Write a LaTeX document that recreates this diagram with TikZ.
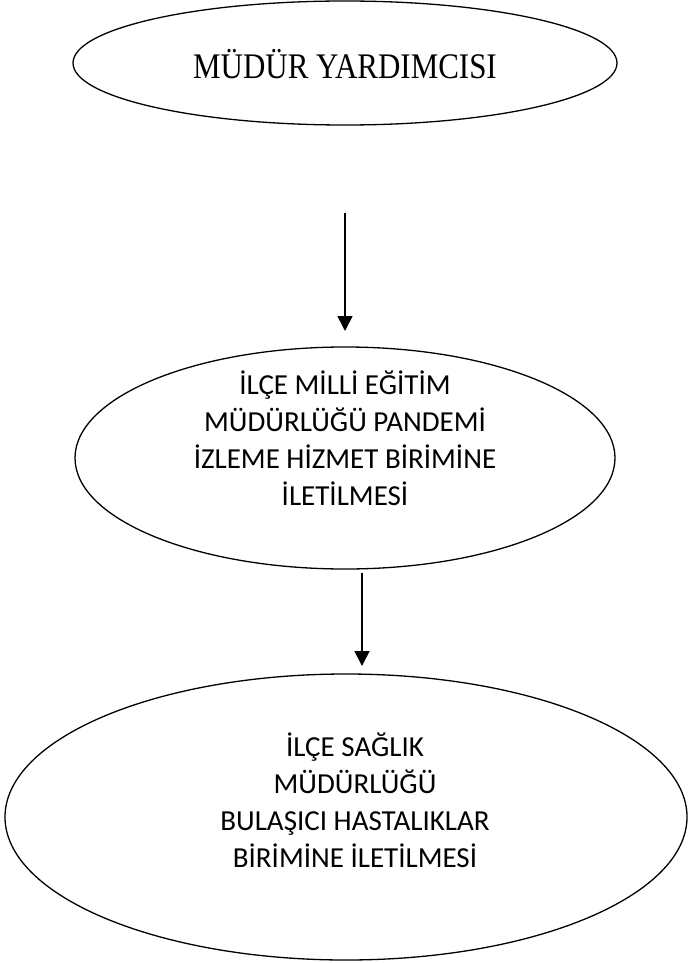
\documentclass[tikz,border=0pt]{standalone}
\usepackage{fontspec}
\setmainfont{Carlito}
\newfontfamily\timesfont{Liberation Serif}
\usetikzlibrary{positioning,arrows.meta,shapes.geometric}

\begin{document}
\begin{tikzpicture}[
    x=1pt, y=-1pt,
    oval/.style={draw, ellipse, line width=1.3pt, inner sep=0pt},
    label/.style={align=center, font=\fontsize{29}{37}\selectfont},
    flow/.style={line width=1.6pt, -{Triangle[width=15pt,length=15pt]}},
]
\useasboundingbox (0,0) rectangle (690,963);

% Ovals
\node[oval, minimum width=544pt, minimum height=124pt] (yardimci) at (345,63) {};
\node[oval, minimum width=540pt, minimum height=222pt] (ilcemem) at (345,458) {};
\node[oval, minimum width=682pt, minimum height=286pt] (saglik) at (346,817) {};

% Texts
\node[font=\timesfont\fontsize{36}{40}\selectfont] (yardimcitxt) at (345,64) {\scalebox{0.86}[1]{MÜDÜR YARDIMCISI}};
\node[label] (ilcememtxt) at (345,438) {İLÇE MİLLİ EĞİTİM\\MÜDÜRLÜĞÜ PANDEMİ\\İZLEME HİZMET BİRİMİNE\\İLETİLMESİ};
\node[label] (sagliktxt) at (355,800) {İLÇE SAĞLIK\\MÜDÜRLÜĞÜ\\BULAŞICI HASTALIKLAR\\BİRİMİNE İLETİLMESİ};

% Arrows
\coordinate (a1s) at (345,213);
\coordinate (a1e) at (345,331);
\coordinate (a2s) at (362,573);
\coordinate (a2e) at (362,666);
\draw[flow] (a1s) -- (a1e);
\draw[flow] (a2s) -- (a2e);

\end{tikzpicture}
\end{document}
